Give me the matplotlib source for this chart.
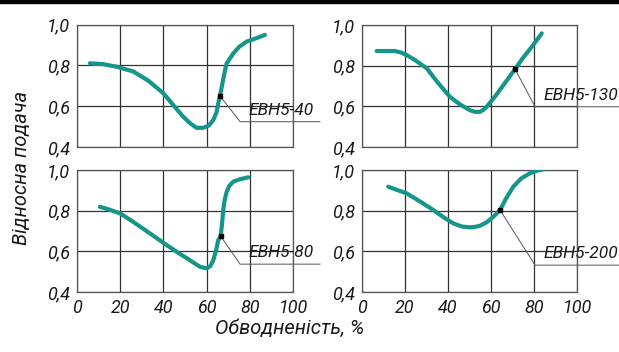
import matplotlib.pyplot as plt
from matplotlib.patches import Rectangle

# curves: water cut (%) vs relative feed
x_40 = [6, 12, 18.4, 26, 33, 40, 45, 49.2, 52.5, 55.4, 58.5, 61, 63.1, 64.6, 65.4, 66.2, 67.3, 68.3, 69.3, 72.4, 75, 78.5, 83, 87]
y_40 = [0.81, 0.806, 0.793, 0.77, 0.725, 0.663, 0.6, 0.548, 0.515, 0.494, 0.494, 0.505, 0.532, 0.57, 0.614, 0.65, 0.71, 0.765, 0.81, 0.859, 0.89, 0.916, 0.933, 0.949]

x_130 = [6.8, 11, 15.3, 18, 20.8, 25, 30.1, 35, 40.9, 45.5, 50.2, 52.5, 54.9, 56.5, 58, 62, 66.5, 71.2, 75, 79.5, 83.6]
y_130 = [0.872, 0.872, 0.872, 0.865, 0.852, 0.825, 0.787, 0.72, 0.647, 0.61, 0.581, 0.573, 0.573, 0.583, 0.598, 0.65, 0.715, 0.783, 0.84, 0.9, 0.959]

x_80 = [10.6, 15, 19.9, 26, 33.8, 40, 46.1, 52, 56.9, 60, 61.8, 63.1, 64.4, 65.4, 66.5, 67.1, 67.7, 68.4, 69.3, 70.5, 72.4, 75.5, 79.3]
y_80 = [0.819, 0.805, 0.787, 0.745, 0.688, 0.642, 0.598, 0.558, 0.524, 0.516, 0.528, 0.557, 0.605, 0.655, 0.675, 0.73, 0.803, 0.855, 0.893, 0.922, 0.943, 0.955, 0.964]

x_200 = [12.2, 16, 20.8, 27, 33.2, 38, 42.5, 46.5, 50.2, 52.5, 54.9, 58, 61.1, 64.2, 67, 70.4, 74, 78.1, 81, 84.3]
y_200 = [0.918, 0.903, 0.885, 0.845, 0.803, 0.767, 0.737, 0.722, 0.718, 0.72, 0.726, 0.743, 0.77, 0.803, 0.86, 0.918, 0.958, 0.984, 0.996, 1.003]

names = ["ЕВН5-40", "ЕВН5-130", "ЕВН5-80", "ЕВН5-200"]
# marked point on each curve and the elbow of its leader line
mark_x = [66.2, 71.2, 66.5, 64.2]
mark_y = [0.65, 0.783, 0.675, 0.803]
elbow_x = [75.5, 80.5, 75.5, 80.5]
elbow_y = [0.524, 0.598, 0.537, 0.532]
line_end_x = [112.5, 119.5, 112.5, 119.5]

x_ticks = [0, 20, 40, 60, 80, 100]
x_tick_labels = ["0", "20", "40", "60", "80", "100"]
y_ticks = [0.4, 0.6, 0.8, 1.0]
y_tick_labels = ["0,4", "0,6", "0,8", "1,0"]

curves = [(x_40, y_40), (x_130, y_130), (x_80, y_80), (x_200, y_200)]

plt.rcParams['font.family'] = ['Roboto', 'DejaVu Sans']
plt.rcParams['font.style'] = 'italic'

W, H = 619, 352
fig = plt.figure(figsize=(W / 100, H / 100), dpi=100)

# panel boxes in pixels: left, top, right, bottom
boxes = [(77, 24.5, 293, 147), (362, 25, 577, 147),
         (77, 170, 293, 292), (362, 170, 577, 292)]

teal = "#16968a"
ink = "#1a1a1a"
for i, (l, t, r, b) in enumerate(boxes):
    ax = fig.add_axes([l / W, 1 - b / H, (r - l) / W, (b - t) / H])
    ax.set_xlim(0, 100)
    ax.set_ylim(0.4, 1.0)
    ax.set_xticks(x_ticks)
    ax.set_yticks(y_ticks)
    ax.set_yticklabels(y_tick_labels)
    if i >= 2:
        ax.set_xticklabels(x_tick_labels)
    else:
        ax.set_xticklabels([])
    ax.tick_params(length=0, labelsize=13, colors=ink, pad=5)
    ax.grid(True, color="#333333", linewidth=0.9)
    for s in ax.spines.values():
        s.set_color("#555555")
        s.set_linewidth(0.9)

    cx, cy = curves[i]
    ax.plot(cx, cy, color=teal, linewidth=3.0, solid_capstyle="round",
            solid_joinstyle="round", zorder=3)
    ax.plot([mark_x[i], elbow_x[i], line_end_x[i]],
            [mark_y[i], elbow_y[i], elbow_y[i]],
            color="#555555", linewidth=0.7, clip_on=False, zorder=4)
    ax.plot(mark_x[i], mark_y[i], marker="s", markersize=3.2,
            color="black", zorder=5)
    ax.text(elbow_x[i] + 4, elbow_y[i] + 0.02, names[i], fontsize=12.5,
            color=ink, ha="left", va="bottom", clip_on=False)

fig.text(22 / W, 1 - 168 / H, "Відносна подача", rotation=90, fontsize=14.5,
         ha="center", va="center", color=ink)
fig.text(290 / W, 1 - 328 / H, "Обводненість, %", fontsize=14.5,
         ha="center", va="center", color=ink)

# black strip along the top edge
fig.patches.append(Rectangle((0, 1 - 3 / H), 1, 3 / H, transform=fig.transFigure,
                             color="black", zorder=10))

fig.savefig("out.png", dpi=100)
